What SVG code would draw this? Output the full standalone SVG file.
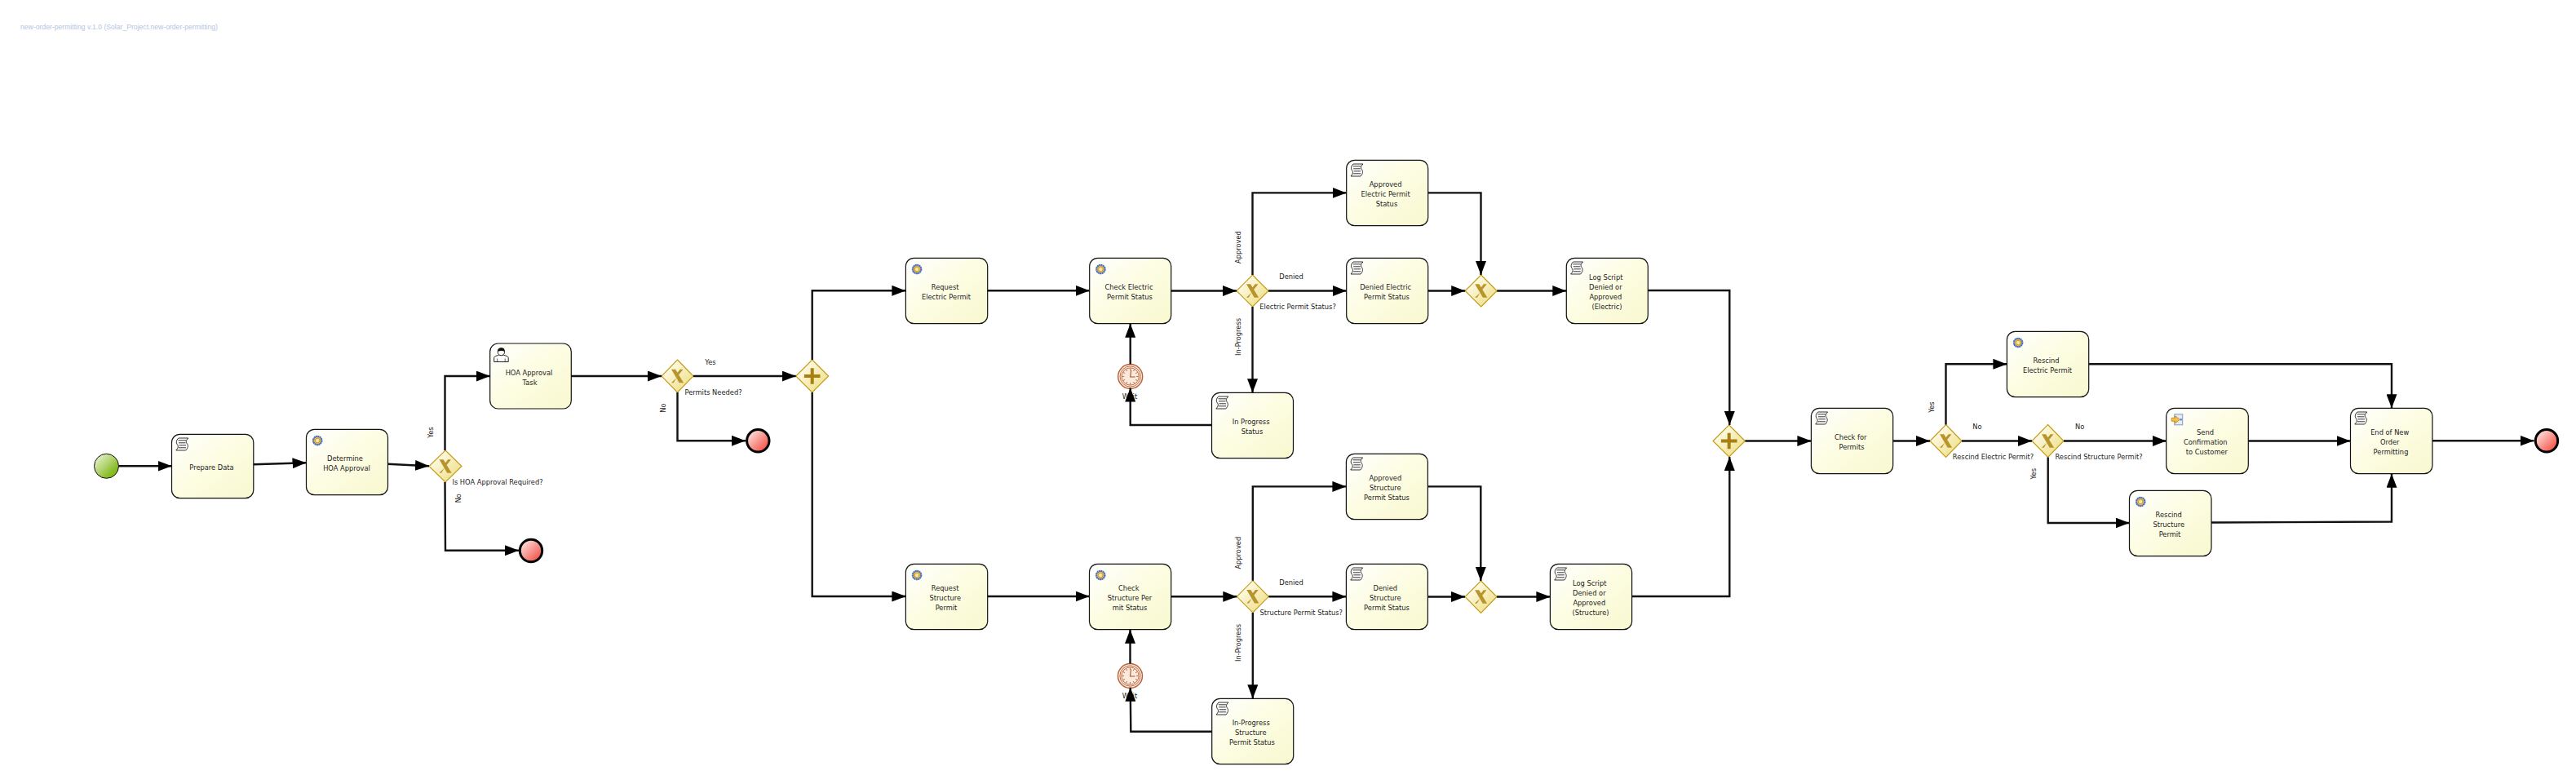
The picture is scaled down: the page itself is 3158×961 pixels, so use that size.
<svg xmlns="http://www.w3.org/2000/svg" width="3158" height="961" viewBox="0 0 3158 961">
<style>
text{font-family:"DejaVu Sans",sans-serif;font-size:8.3px;fill:#222;text-anchor:middle;dominant-baseline:central}
.title{font-family:"Liberation Sans",Arial,sans-serif;font-size:8.65px;fill:#b4c6de;text-anchor:start}
.task{fill:url(#taskFill);stroke:#111;stroke-width:1.2}
.gw{fill:url(#gwFill);stroke:#c49a12;stroke-width:1.1}
.mark{fill:#b8952c}
.plus{fill:#a87f12}
.start{fill:url(#startFill);stroke:#111;stroke-width:1}
.end{fill:url(#endFill);stroke:#000;stroke-width:3}
.flow{fill:none;stroke:#111;stroke-width:2.4;marker-end:url(#arrow)}
.scroll{fill:#fff;stroke:#000;stroke-width:.8}
.tm{fill:none;stroke:#b8613a}
</style>
<defs>
<linearGradient id="taskFill" x1="0" y1="0" x2="1" y2="1"><stop offset="0" stop-color="#ffffff"/><stop offset="0.45" stop-color="#fdfde4"/><stop offset="1" stop-color="#f8f8cf"/></linearGradient>
<linearGradient id="gwFill" x1="0" y1="0" x2="1" y2="1"><stop offset="0.15" stop-color="#fffdf0"/><stop offset="0.85" stop-color="#efe08a"/></linearGradient>
<linearGradient id="startFill" x1="0" y1="0" x2="1" y2="1"><stop offset="0.05" stop-color="#eef6dc"/><stop offset="0.75" stop-color="#86bb22"/></linearGradient>
<linearGradient id="endFill" x1="0" y1="0" x2="1" y2="1"><stop offset="0.1" stop-color="#fde4e0"/><stop offset="0.85" stop-color="#f4564c"/></linearGradient>
<marker id="arrow" markerUnits="userSpaceOnUse" markerWidth="17" markerHeight="13" refX="17" refY="6.5" orient="auto"><path d="M0,0L17,6.5L0,13Z" fill="#000"/></marker>
<g id="scriptIcon">
<path class="scroll" d="M8.3,4.7H20.3C17.3,7.5 17.3,9.5 18.8,11.5C20.3,13.5 20.3,16.5 17.3,19.7H5.3C8.3,16.5 8.3,14.5 6.8,12.5C5.3,10.5 5.3,7.5 8.3,4.7Z"/>
<path d="M8,7.5H17.5M8.5,10.5H17M9,13.5H17.5M8.5,16.5H17.5" stroke="#000" stroke-width=".8" fill="none"/>
</g>
<g id="serviceIcon">
<circle cx="13.7" cy="13.7" r="5.2" fill="#e8c050" stroke="#4a70c0" stroke-width="2.2" stroke-dasharray="2 .4"/>
<circle cx="13.7" cy="13.7" r="2.8" fill="#f6e6a8" stroke="#d8962a" stroke-width="1"/>
</g>
<g id="userIcon">
<path d="M5,22.5V17.5C5,15.5 9,15 11,14H16.5C18.5,15 22.5,15.5 22.5,17.5V22.5Z" fill="#fff" stroke="#222" stroke-width="1"/>
<path d="M9,22V18.5M18.5,22V18.5" stroke="#222" stroke-width=".7"/>
<circle cx="13.7" cy="10.5" r="4.2" fill="#fff" stroke="#222" stroke-width="1"/>
<path d="M9.5,10C9.2,6 11.5,5.2 13.8,5.2C16.5,5.2 18.3,6.5 18,10C16,8.5 12,8.5 9.5,10Z" fill="#111"/>
</g>
<g id="sendIcon">
<rect x="10" y="7.5" width="10" height="13" fill="#e4ecf6" stroke="#7d9cc8" stroke-width="1"/>
<path d="M6.5,12H11V9.5L16.5,14L11,18.5V16H6.5Z" fill="#f2c14e" stroke="#d48a1e" stroke-width="1"/>
<rect x="17" y="13" width="2" height="2" fill="#3a66b0"/>
</g>
<g id="xMark">
<path class="mark" d="M-7.5,-8.3H-2.4L7.6,8.3H2.2ZM3.2,-8.3H7L-2.2,3.2L-7.6,8.3H-4.8L-0.6,1.2L-2,-1.5Z"/>
</g>
<g id="timerIcon">
<circle r="15" fill="#fbeadb" stroke="#b8613a" stroke-width="1.4"/>
<circle class="tm" r="12.6" stroke-width=".9"/>
<circle class="tm" r="10.6" fill="#fdf3e8" stroke-width=".9"/>
<path class="tm" stroke-width=".9" d="M0,-10V-7.5M0,10V7.5M-10,0H-7.5M10,0H7.5M5,-8.7L3.8,-6.5M-5,-8.7L-3.8,-6.5M5,8.7L3.8,6.5M-5,8.7L-3.8,6.5M8.7,-5L6.5,-3.8M-8.7,-5L-6.5,-3.8M8.7,5L6.5,3.8M-8.7,5L-6.5,3.8"/>
<path d="M1,-8L0,0.5H6" fill="none" stroke="#a8522c" stroke-width="1.1"/>
</g>
</defs>

<text class="title" x="25" y="33">new-order-permitting v.1.0 (Solar_Project.new-order-permitting)</text>

<g id="start"><circle class="start" cx="130.5" cy="571.3" r="15"/></g>
<g id="prepare-data"><rect class="task" x="210.5" y="532.3" width="100.3" height="78.4" rx="10"/><use href="#scriptIcon" x="210.5" y="532.3"/><text x="259.5" y="573">Prepare Data</text></g>
<g id="determine-hoa"><rect class="task" x="375.5" y="526.3" width="100" height="80.4" rx="10"/><use href="#serviceIcon" x="375.5" y="526.3"/><text x="423" y="562">Determine</text><text x="425" y="574">HOA Approval</text></g>
<g id="gw-hoa"><path class="gw" d="M546,552L566,571.5L546,591L526,571.5Z"/><use href="#xMark" x="546" y="571.5"/><text x="610" y="590.7">Is HOA Approval Required?</text></g>
<g id="hoa-task"><rect class="task" x="600.7" y="421" width="99.6" height="80" rx="10"/><use href="#userIcon" x="600.7" y="421"/><text x="648.5" y="457">HOA Approval</text><text x="649.5" y="469">Task</text></g>
<g id="end-hoa"><circle class="end" cx="651" cy="675" r="13.7"/></g>
<g id="gw-permits"><path class="gw" d="M830.5,441L850,461L830.5,481L811,461Z"/><use href="#xMark" x="830.5" y="461"/><text x="874.5" y="480.7">Permits Needed?</text></g>
<g id="end-permits"><circle class="end" cx="929.3" cy="540.3" r="13.7"/></g>
<g id="gw-split"><path class="gw" d="M995.7,441L1015.7,461L995.7,481L975.7,461Z"/><path class="plus" d="M993.7,451.2H997.7V459H1005.5V463H997.7V470.8H993.7V463H985.9V459H993.7Z"/></g>

<g id="request-electric"><rect class="task" x="1110.4" y="316.3" width="100.3" height="80.4" rx="10"/><use href="#serviceIcon" x="1110.4" y="316.3"/><text x="1158.7" y="352">Request</text><text x="1160" y="364">Electric Permit</text></g>
<g id="check-electric"><rect class="task" x="1335.7" y="316.3" width="100" height="80.4" rx="10"/><use href="#serviceIcon" x="1335.7" y="316.3"/><text x="1384" y="352">Check Electric</text><text x="1385" y="364">Permit Status</text></g>
<g id="gw-electric"><path class="gw" d="M1535.5,337L1555,356.5L1535.5,376L1516,356.5Z"/><use href="#xMark" x="1535.5" y="356.5"/><text x="1591" y="375.7">Electric Permit Status?</text></g>
<g id="approved-electric"><rect class="task" x="1650.7" y="196.3" width="100" height="80.4" rx="10"/><use href="#scriptIcon" x="1650.7" y="196.3"/><text x="1698.6" y="226">Approved</text><text x="1698.6" y="238">Electric Permit</text><text x="1700" y="250">Status</text></g>
<g id="denied-electric"><rect class="task" x="1650.7" y="316.3" width="100" height="80.4" rx="10"/><use href="#scriptIcon" x="1650.7" y="316.3"/><text x="1698.6" y="352">Denied Electric</text><text x="1700" y="364">Permit Status</text></g>
<g id="gw-electric-join"><path class="gw" d="M1815.7,337L1835.2,356.5L1815.7,376L1796.2,356.5Z"/><use href="#xMark" x="1815.7" y="356.5"/></g>
<g id="log-electric"><rect class="task" x="1920.3" y="316.3" width="100" height="80.4" rx="10"/><use href="#scriptIcon" x="1920.3" y="316.3"/><text x="1968.7" y="340">Log Script</text><text x="1968.3" y="352">Denied or</text><text x="1968.3" y="364">Approved</text><text x="1970" y="376">(Electric)</text></g>
<g id="timer-electric"><use href="#timerIcon" x="1385.7" y="461.5"/><text x="1385" y="486">Wait</text></g>
<g id="inprogress-electric"><rect class="task" x="1485.5" y="481.3" width="100" height="80.4" rx="10"/><use href="#scriptIcon" x="1485.5" y="481.3"/><text x="1533.6" y="517">In Progress</text><text x="1535" y="529">Status</text></g>

<g id="request-structure"><rect class="task" x="1110.4" y="691.3" width="100.3" height="80.4" rx="10"/><use href="#serviceIcon" x="1110.4" y="691.3"/><text x="1158.7" y="721">Request</text><text x="1158.7" y="733">Structure</text><text x="1160" y="745">Permit</text></g>
<g id="check-structure"><rect class="task" x="1335.5" y="691.3" width="100.2" height="80.4" rx="10"/><use href="#serviceIcon" x="1335.5" y="691.3"/><text x="1383.7" y="721">Check</text><text x="1385" y="733">Structure Per</text><text x="1385" y="745">mit Status</text></g>
<g id="gw-structure"><path class="gw" d="M1535.8,711.7L1555.3,731.3L1535.8,751L1516.3,731.3Z"/><use href="#xMark" x="1535.8" y="731.3"/><text x="1595.3" y="750.7">Structure Permit Status?</text></g>
<g id="approved-structure"><rect class="task" x="1650.4" y="556.3" width="100" height="80.4" rx="10"/><use href="#scriptIcon" x="1650.4" y="556.3"/><text x="1698.3" y="586">Approved</text><text x="1698.3" y="598">Structure</text><text x="1700" y="610">Permit Status</text></g>
<g id="denied-structure"><rect class="task" x="1650.4" y="691.3" width="100" height="80.4" rx="10"/><use href="#scriptIcon" x="1650.4" y="691.3"/><text x="1698.3" y="721">Denied</text><text x="1698.3" y="733">Structure</text><text x="1700" y="745">Permit Status</text></g>
<g id="gw-structure-join"><path class="gw" d="M1815.5,712L1835,731.5L1815.5,751.5L1796,731.5Z"/><use href="#xMark" x="1815.5" y="731.5"/></g>
<g id="log-structure"><rect class="task" x="1900.4" y="691.3" width="100.2" height="80.4" rx="10"/><use href="#scriptIcon" x="1900.4" y="691.3"/><text x="1948.7" y="715">Log Script</text><text x="1948.3" y="727">Denied or</text><text x="1948.3" y="739">Approved</text><text x="1950" y="751">(Structure)</text></g>
<g id="timer-structure"><use href="#timerIcon" x="1385.5" y="828.5"/><text x="1385" y="853">Wait</text></g>
<g id="inprogress-structure"><rect class="task" x="1485.7" y="856.3" width="100" height="80.4" rx="10"/><use href="#scriptIcon" x="1485.7" y="856.3"/><text x="1533.7" y="886">In-Progress</text><text x="1533.3" y="898">Structure</text><text x="1535" y="910">Permit Status</text></g>

<g id="gw-parallel-join"><path class="gw" d="M2119.7,521L2139.4,540.5L2119.7,560L2100,540.5Z"/><path class="plus" d="M2117.7,530.7H2121.7V538.5H2129.5V542.5H2121.7V550.3H2117.7V542.5H2109.9V538.5H2117.7Z"/></g>
<g id="check-permits"><rect class="task" x="2220.4" y="500.3" width="100.3" height="80.4" rx="10"/><use href="#scriptIcon" x="2220.4" y="500.3"/><text x="2268.7" y="536">Check for</text><text x="2270" y="548">Permits</text></g>
<g id="gw-rescind-electric"><path class="gw" d="M2385.5,520.5L2405,540.5L2385.5,560.5L2366,540.5Z"/><use href="#xMark" x="2385.5" y="540.5"/><text x="2443.5" y="559.7">Rescind Electric Permit?</text></g>
<g id="gw-rescind-structure"><path class="gw" d="M2510.5,520.5L2530,540.5L2510.5,560.5L2491,540.5Z"/><use href="#xMark" x="2510.5" y="540.5"/><text x="2573" y="559.7">Rescind Structure Permit?</text></g>
<g id="rescind-electric"><rect class="task" x="2460.4" y="406.3" width="100.3" height="80.4" rx="10"/><use href="#serviceIcon" x="2460.4" y="406.3"/><text x="2508.5" y="442">Rescind</text><text x="2510" y="454">Electric Permit</text></g>
<g id="send-confirmation"><rect class="task" x="2655.7" y="500.3" width="100.6" height="80.4" rx="10"/><use href="#sendIcon" x="2655.7" y="500.3"/><text x="2703.5" y="530">Send</text><text x="2703.8" y="542">Confirmation</text><text x="2705.4" y="554">to Customer</text></g>
<g id="rescind-structure"><rect class="task" x="2610.5" y="601.3" width="100.5" height="80.4" rx="10"/><use href="#serviceIcon" x="2610.5" y="601.3"/><text x="2658.7" y="631">Rescind</text><text x="2658.7" y="643">Structure</text><text x="2660" y="655">Permit</text></g>
<g id="end-of-order"><rect class="task" x="2881.5" y="500.3" width="100.5" height="80.4" rx="10"/><use href="#scriptIcon" x="2881.5" y="500.3"/><text x="2929.7" y="530">End of New</text><text x="2929.7" y="542">Order</text><text x="2931" y="554">Permitting</text></g>
<g id="end-final"><circle class="end" cx="3122" cy="540.3" r="13.7"/></g>

<g id="connectors">
<path class="flow" d="M145.5,571.3H210.5"/>
<path class="flow" d="M311,569.3L375.5,567.3"/>
<path class="flow" d="M475.5,568.7L526,571.3"/>
<path class="flow" d="M545.5,552V461H600.7"/>
<path class="flow" d="M545.5,591L546,674.7H636"/>
<path class="flow" d="M700.3,461H811"/>
<path class="flow" d="M830.5,481V540.3H914"/>
<path class="flow" d="M850,461H975.7"/>
<path class="flow" d="M995.7,441V356.3H1110.4"/>
<path class="flow" d="M995.7,481V731H1110.4"/>
<path class="flow" d="M1210.7,356.3H1335.7"/>
<path class="flow" d="M1435.7,356.5H1516"/>
<path class="flow" d="M1535.5,337V236.4H1650.7"/>
<path class="flow" d="M1555,356.5H1650.7"/>
<path class="flow" d="M1535.5,376V481.3"/>
<path class="flow" d="M1750.7,236.4H1815.5V337"/>
<path class="flow" d="M1750.7,356.5H1796.2"/>
<path class="flow" d="M1835.2,356.5H1920.3"/>
<path class="flow" d="M1485.5,521H1385.7V475.5"/>
<path class="flow" d="M1385.7,446.5V396.7"/>
<path class="flow" d="M2020.3,356H2120.3V521"/>
<path class="flow" d="M1210.7,731H1335.5"/>
<path class="flow" d="M1435.7,731.3H1516.3"/>
<path class="flow" d="M1535.8,711.7V596.4H1650.4"/>
<path class="flow" d="M1555.3,731.3H1650.4"/>
<path class="flow" d="M1535.8,751V856.3"/>
<path class="flow" d="M1750.4,596.4H1815.3V712"/>
<path class="flow" d="M1750.4,731.5H1796"/>
<path class="flow" d="M1835,731.5H1900.4"/>
<path class="flow" d="M1485.7,896.7H1386.3L1385.7,842.7"/>
<path class="flow" d="M1385.5,813.5V771.7"/>
<path class="flow" d="M2000.6,731H2120.3V560"/>
<path class="flow" d="M2139.4,540.5H2220.4"/>
<path class="flow" d="M2320.7,540.5H2366"/>
<path class="flow" d="M2385.5,520.5V446.3H2460.4"/>
<path class="flow" d="M2405,540.5H2491"/>
<path class="flow" d="M2510.7,560.5V641H2610.5"/>
<path class="flow" d="M2530,540.5H2655.7"/>
<path class="flow" d="M2560.7,446.3H2932V500.3"/>
<path class="flow" d="M2756.3,540.5H2881.5"/>
<path class="flow" d="M2711,640.5L2932,639.5V580.7"/>
<path class="flow" d="M2982,540.3H3106.5"/>
</g>

<g id="connector-labels">
<text transform="rotate(-90 528 530)" x="528" y="530">Yes</text>
<text transform="rotate(-90 562 610.7)" x="562" y="610.7">No</text>
<text x="871" y="444">Yes</text>
<text transform="rotate(-90 813 500)" x="813" y="500">No</text>
<text transform="rotate(-90 1518 303)" x="1518" y="303">Approved</text>
<text x="1583" y="339">Denied</text>
<text transform="rotate(-90 1518 413)" x="1518" y="413">In-Progress</text>
<text transform="rotate(-90 1518.3 677.7)" x="1518.3" y="677.7">Approved</text>
<text x="1583" y="714">Denied</text>
<text transform="rotate(-90 1518.3 788)" x="1518.3" y="788">In-Progress</text>
<text transform="rotate(-90 2368 499)" x="2368" y="499">Yes</text>
<text x="2424" y="523">No</text>
<text x="2549.7" y="523">No</text>
<text transform="rotate(-90 2493 580.7)" x="2493" y="580.7">Yes</text>
</g>
</svg>
